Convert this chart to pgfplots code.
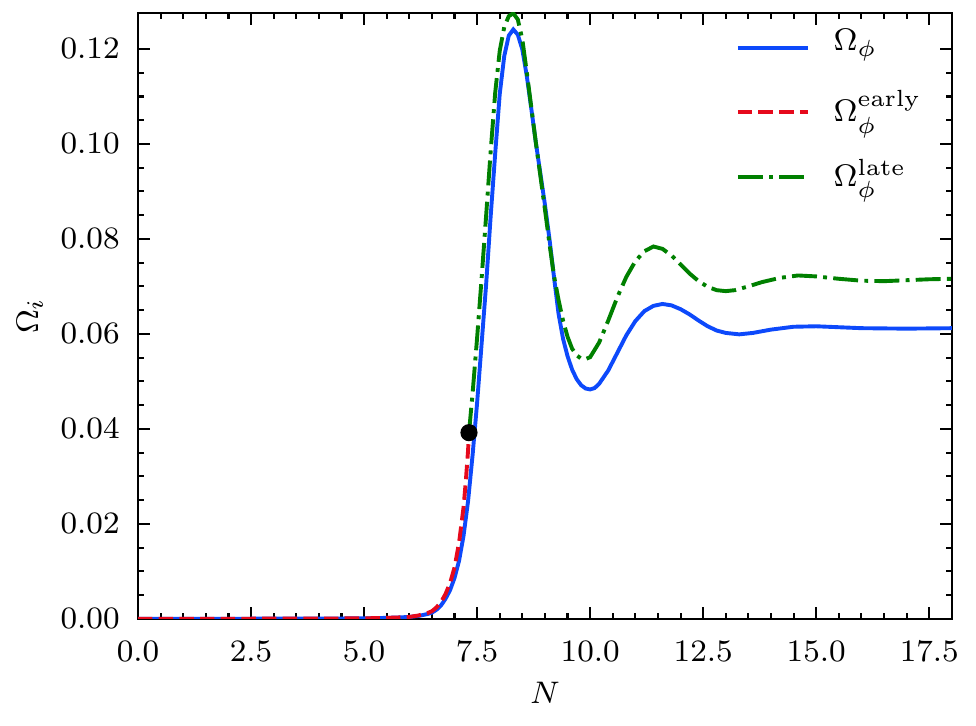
\documentclass[border=0pt]{standalone}
\usepackage{pgfplots}
\pgfplotsset{compat=1.18}
\usepackage{pgfplotstable}
\definecolor{cblue}{HTML}{0D49FB}
\definecolor{cred}{HTML}{E6091C}
\definecolor{cgreen}{HTML}{008000}

\pgfplotstableread{
x y
0 0.00001
1 0.00001
2 0.00002
3 0.00003
4 0.00005
5 0.0001
5.5 0.0002
5.8 0.0003
6.0 0.0004
6.2 0.0006
6.4 0.0010
6.5 0.0013
6.6 0.0019
6.7 0.0028
6.8 0.0042
6.9 0.0060
7.0 0.0086
7.1 0.0122
7.2 0.0175
7.3 0.0248
7.4 0.0345
7.5 0.0455
7.6 0.0580
7.7 0.0705
7.8 0.0848
7.9 0.0980
8.0 0.1105
8.1 0.1185
8.2 0.1228
8.3 0.1241
8.4 0.1230
8.5 0.1199
8.6 0.1142
8.7 0.1073
8.8 0.1002
8.9 0.0937
9.0 0.0872
9.1 0.0800
9.2 0.0720
9.3 0.0643
9.4 0.0590
9.5 0.0553
9.6 0.0525
9.7 0.0505
9.8 0.0492
9.9 0.0485
10.0 0.0483
10.1 0.0486
10.2 0.0495
10.4 0.0523
10.6 0.0560
10.8 0.0597
11.0 0.0627
11.2 0.0648
11.4 0.0659
11.6 0.0663
11.8 0.0660
12.0 0.0652
12.2 0.0641
12.4 0.0628
12.6 0.0616
12.8 0.0607
13.0 0.0602
13.3 0.0599
13.6 0.0602
14.0 0.0609
14.5 0.0615
15.0 0.0616
15.5 0.0614
16.0 0.0612
17.0 0.0611
18.0 0.0612
}\phidata

\pgfplotstableread{
x y
0 0.00001
1 0.00001
2 0.00002
3 0.00003
4 0.00005
5 0.0001
5.5 0.0002
5.8 0.0003
6.0 0.0004
6.2 0.0007
6.4 0.0012
6.5 0.0016
6.6 0.0024
6.7 0.0035
6.8 0.0052
6.9 0.0075
7.0 0.0108
7.1 0.0160
7.2 0.0235
7.25 0.0290
7.3 0.0355
7.32 0.0392
}\earlydata

\pgfplotstableread{
x y
7.32 0.0392
7.4 0.0475
7.5 0.0592
7.6 0.0718
7.7 0.0850
7.8 0.0985
7.9 0.1108
8.0 0.1196
8.1 0.1246
8.2 0.1269
8.3 0.1275
8.4 0.1262
8.5 0.1220
8.6 0.1150
8.7 0.1076
8.8 0.1002
8.9 0.0932
9.0 0.0862
9.1 0.0790
9.2 0.0722
9.3 0.0672
9.4 0.0628
9.5 0.0594
9.6 0.0569
9.7 0.0555
9.8 0.0548
9.9 0.0547
10.0 0.0551
10.2 0.0582
10.4 0.0628
10.6 0.0677
10.8 0.0720
11.0 0.0753
11.2 0.0774
11.4 0.0784
11.6 0.0779
11.8 0.0765
12.0 0.0746
12.2 0.0727
12.4 0.0711
12.6 0.0699
12.8 0.0692
13.0 0.0690
13.2 0.0692
13.5 0.0700
13.8 0.0709
14.2 0.0718
14.6 0.0723
15.0 0.0721
15.5 0.0716
16.0 0.0712
16.5 0.0711
17.0 0.0713
17.5 0.0715
18.0 0.0716
}\latedata

\begin{document}
\begin{tikzpicture}[font=\fontsize{8}{9.6}\selectfont]
\begin{axis}[
  name=ax,
  scale only axis,
  width=208.7pt, height=155.4pt,
  xmin=0, xmax=18, ymin=0, ymax=0.1276,
  xtick={0,2.5,...,17.5},
  ytick={0,0.02,0.04,0.06,0.08,0.10,0.12},
  minor x tick num=4,
  minor y tick num=3,
  tick align=inside,
  major tick length=3pt,
  minor tick length=1.5pt,
  every tick/.style={black, line width=0.55pt},
  axis line style={line width=0.65pt},
  scaled y ticks=false,
  scaled x ticks=false,
  xticklabel style={/pgf/number format/.cd, fixed, fixed zerofill, precision=1, /tikz/.cd, yshift=-2.2pt},
  yticklabel style={/pgf/number format/.cd, fixed, fixed zerofill, precision=2, /tikz/.cd, xshift=-1.2pt},
  xlabel={$N$},
  ylabel={$\Omega_i$},
  xlabel style={at={(axis description cs:0.5,-0.1403)}, anchor=base},
  ylabel style={at={(axis description cs:-0.1227,0.5)}, anchor=base},
  legend cell align=left,
  legend image code/.code={\draw[#1] (0pt,0pt) -- (17.9pt,0pt);},
  legend style={draw=none, fill=none, inner sep=0pt, outer sep=0pt,
    row sep=5pt,
    at={(axis description cs:0.7346,0.9790)}, anchor=north west,
    nodes={inner sep=0pt, text height=6.5pt, text depth=5pt},
    /tikz/every odd column/.append style={column sep=6.2pt}},
]
\addplot[cblue, line width=1pt] table[x=x,y=y] {\phidata};
\addlegendentry{$\Omega_\phi$}
\addplot[cred, line width=1pt, dash pattern=on 3.7pt off 1.6pt] table[x=x,y=y] {\earlydata};
\addlegendentry{\raisebox{-1.7pt}{$\Omega_\phi^{\mathrm{early}}$}}
\addplot[cgreen, line width=1pt, dash pattern=on 6.4pt off 1.6pt on 1pt off 1.6pt] table[x=x,y=y] {\latedata};
\addlegendentry{\raisebox{-1.7pt}{$\Omega_\phi^{\mathrm{late}}$}}
\addplot[only marks, mark=*, mark size=2pt, black, forget plot] coordinates {(7.32,0.0392)};
\end{axis}
\pgfresetboundingbox
\path[use as bounding box] ([shift={(-35.4pt,-27.4pt)}]ax.south west) rectangle ([shift={(6.2pt,3.3pt)}]ax.north east);
\end{tikzpicture}
\end{document}
